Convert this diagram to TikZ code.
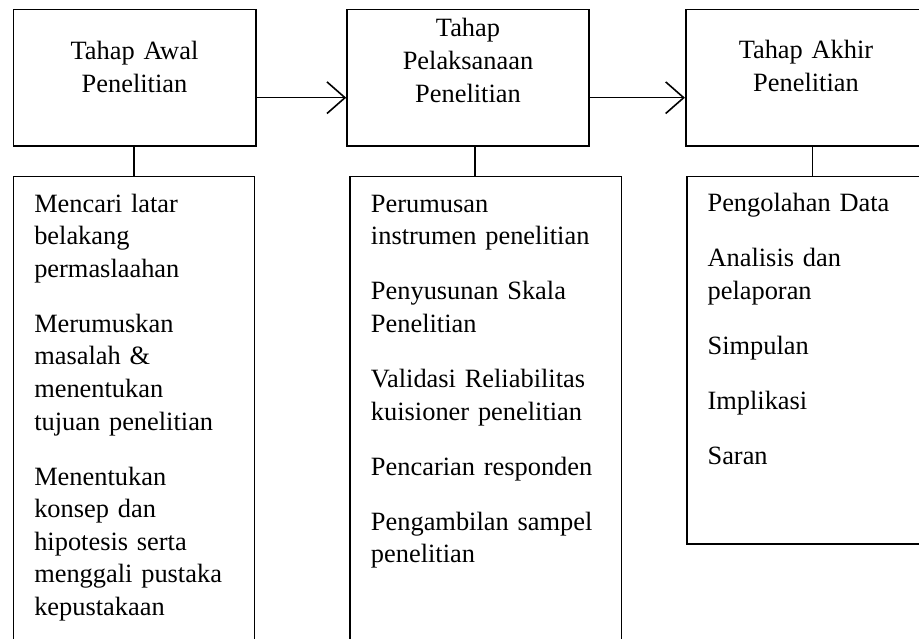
\documentclass[tikz,border=0pt]{standalone}
\usepackage{fontspec}
\setmainfont{Liberation Serif}
\usetikzlibrary{arrows.meta,positioning,calc}

\tikzset{
    kotak/.style={draw, line width=1.2pt, inner sep=0pt},
    judul/.style={text width=181pt, align=center, inner sep=0pt, anchor=base,
        font=\fontsize{19.8}{24.75}\selectfont},
    isi/.style={text width=190pt, align=left, inner sep=0pt, anchor=base west,
        font=\fontsize{19.8}{24.4}\selectfont},
    panah/.style={line width=1.2pt, -{Straight Barb[length=13.5pt, width=23.7pt, line width=1.2pt]}},
    garis/.style={line width=1.2pt},
}
\newcommand{\jeda}{\\[16.9pt]}

\begin{document}
\begin{tikzpicture}[x=0.75pt, y=-0.75pt]
    \useasboundingbox (0,0) rectangle (919,638);
    \clip (0,0) rectangle (919,638);

    % tahap
    \node (awal) [kotak, minimum width=181.8pt, minimum height=102.5pt] at (134.5,77.7) {};
    \node (pelaksanaan) [kotak, minimum width=181.5pt, minimum height=102.5pt] at (468,77.7) {};
    \node (akhir) [kotak, minimum width=181.5pt, minimum height=102.5pt] at (806.7,77.7) {};

    \node (awaltxt) [judul] at (134.5,59.3) {Tahap Awal\\Penelitian};
    \node (pelaksanaantxt) [judul] at (468,36.7) {Tahap\\Pelaksanaan\\Penelitian};
    \node (akhirtxt) [judul] at (806,58.3) {Tahap Akhir\\Penelitian};

    % kegiatan
    \node (kegawal) [kotak, minimum width=180.9pt, minimum height=362.5pt] at (133.9,418.35) {};
    \node (kegpelaksanaan) [kotak, minimum width=203.6pt, minimum height=362.5pt] at (485.75,418.35) {};
    \node (kegakhir) [kotak, minimum width=180pt, minimum height=275.5pt] at (807,360.35) {};

    \node (kegawaltxt) [isi] at (34,212.3) {Mencari latar\\belakang\\permaslaahan\jeda
        Merumuskan\\masalah \&\\menentukan\\tujuan penelitian\jeda
        Menentukan\\konsep dan\\hipotesis serta\\menggali pustaka\\kepustakaan};
    \node (kegpelaksanaantxt) [isi] at (370.7,212.3) {Perumusan\\instrumen penelitian\jeda
        Penyusunan Skala\\Penelitian\jeda
        Validasi Reliabilitas\\kuisioner penelitian\jeda
        Pencarian responden\jeda
        Pengambilan sampel\\penelitian};
    \node (kegakhirtxt) [isi] at (707.3,211.7) {Pengolahan Data\jeda
        Analisis dan\\pelaporan\jeda
        Simpulan\jeda
        Implikasi\jeda
        Saran};

    % panah antar tahap
    \draw [panah] ([yshift=-15pt]awal.east) -- ([yshift=-15pt]pelaksanaan.west);
    \draw [panah] ([yshift=-15pt]pelaksanaan.east) -- ([yshift=-15pt]akhir.west);

    % garis ke kegiatan
    \draw [garis] (awal.south -| kegawal.north) -- (kegawal.north);
    \draw [garis] ([xshift=5.25pt]pelaksanaan.south) -- ([xshift=5.25pt]pelaksanaan.south |- kegpelaksanaan.north);
    \draw [garis] ([xshift=4.2pt]akhir.south) -- ([xshift=4.2pt]akhir.south |- kegakhir.north);

\end{tikzpicture}
\end{document}
